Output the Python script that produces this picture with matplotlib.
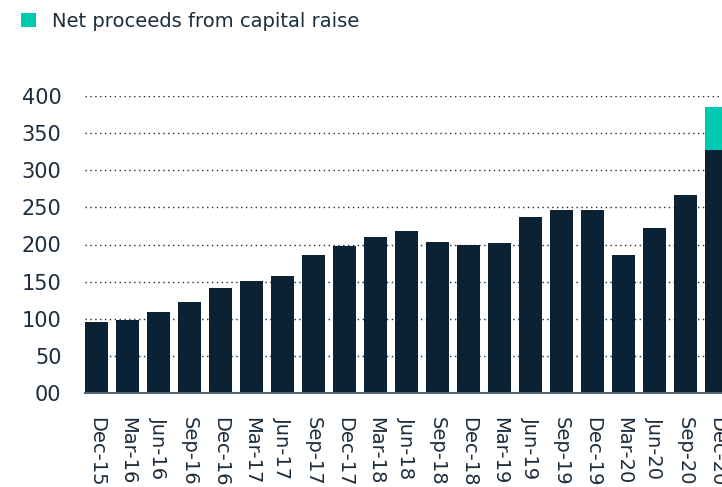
import numpy as np
import matplotlib.pyplot as plt

plt.rcParams['font.family'] = ['DejaVu Sans']

quarters = ['Dec-15', 'Mar-16', 'Jun-16', 'Sep-16', 'Dec-16', 'Mar-17', 'Jun-17',
            'Sep-17', 'Dec-17', 'Mar-18', 'Jun-18', 'Sep-18', 'Dec-18', 'Mar-19',
            'Jun-19', 'Sep-19', 'Dec-19', 'Mar-20', 'Jun-20', 'Sep-20', 'Dec-20']
base = [95, 98, 109, 122, 142, 151, 157, 186, 198, 210, 218, 203, 199, 202,
        237, 246, 246, 186, 222, 267, 327]
proceeds = [0] * 20 + [58]
yticks = [0, 50, 100, 150, 200, 250, 300, 350, 400]
ylabels = ['00', '50', '100', '150', '200', '250', '300', '350', '400']

navy = '#0b2234'
teal = '#00c9b1'
txt = '#1c2d3d'

fig = plt.figure(figsize=(7.22, 4.87), dpi=100)
ax = fig.add_axes([85 / 722, 94 / 487, 637 / 722, 297 / 487])

x = np.arange(len(quarters))
ax.bar(x, base, width=0.74, color=navy, zorder=2)
ax.bar(x, proceeds, width=0.74, bottom=base, color=teal, zorder=2,
       label='Net proceeds from capital raise')

ax.set_xlim(-0.37, 20.18)
ax.set_ylim(0, 400)
ax.set_yticks(yticks)
ax.set_yticklabels(ylabels)
ax.set_xticks(x)
ax.set_xticklabels(quarters, rotation=270, va='top', ha='center')

# dotted horizontal guides behind the bars
ax.yaxis.grid(True, linestyle=(0, (1, 2.5)), color=txt, linewidth=1, zorder=0)
ax.set_axisbelow(True)
for s in ['top', 'right', 'left']:
    ax.spines[s].set_visible(False)
ax.spines['bottom'].set_color('#56687a')
ax.spines['bottom'].set_linewidth(1.5)
ax.spines['bottom'].set_zorder(3)
ax.tick_params(axis='both', length=0, colors=txt)
ax.tick_params(axis='y', pad=17, labelsize=15)
ax.tick_params(axis='x', pad=17, labelsize=14)

h, l = ax.get_legend_handles_labels()
fig.legend(h[-1:], l[-1:], loc='upper left', bbox_to_anchor=(0.005, 1.011),
           frameon=False, fontsize=14, handlelength=0.75, handleheight=0.75,
           handletextpad=0.85, labelcolor=txt)

fig.savefig('out.png', dpi=100)
